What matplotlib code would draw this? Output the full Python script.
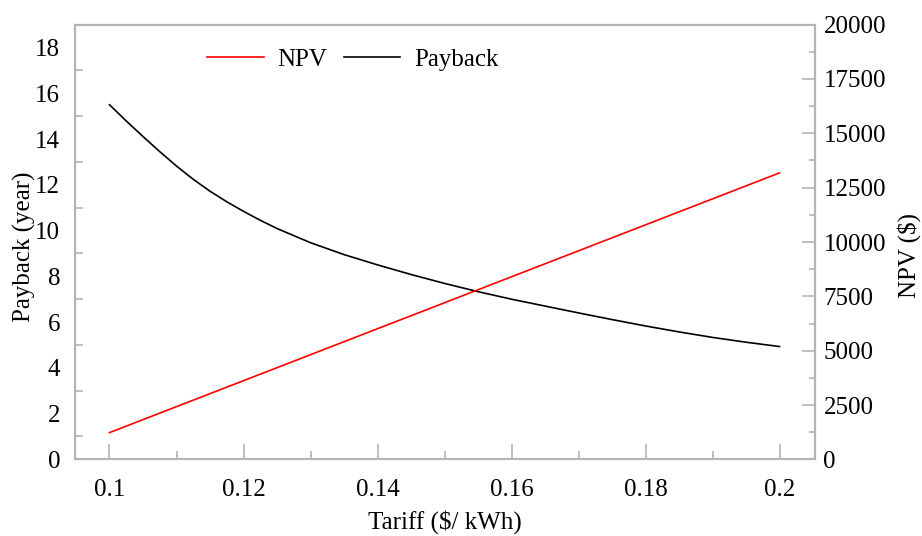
import numpy as np
import matplotlib
matplotlib.use('Agg')
import matplotlib.pyplot as plt
from matplotlib.ticker import FixedLocator

plt.rcParams['font.family'] = ['Liberation Serif', 'DejaVu Serif']

# data
tariff = [0.1000, 0.1025, 0.1050, 0.1075, 0.1100, 0.1125, 0.1150, 0.1175, 0.1200,
          0.1225, 0.1250, 0.130, 0.135, 0.140, 0.145, 0.150, 0.155, 0.160, 0.165,
          0.170, 0.175, 0.180, 0.185, 0.190, 0.195, 0.200]
payback = [15.5, 14.79, 14.11, 13.45, 12.82, 12.24, 11.72, 11.26, 10.84,
           10.45, 10.09, 9.47, 8.95, 8.50, 8.08, 7.69, 7.33, 7.00, 6.70,
           6.40, 6.11, 5.83, 5.57, 5.33, 5.12, 4.93]

npv_tariff = [0.10, 0.11, 0.12, 0.13, 0.14, 0.15, 0.16, 0.17, 0.18, 0.19, 0.20]
npv = [1230, 2425, 3620, 4815, 6010, 7205, 8400, 9595, 10790, 11985, 13180]

grey = '#b4b4b4'
fs = 18

fig = plt.figure(figsize=(9.22, 5.36), dpi=100)
ax = fig.add_axes([0.0817, 0.143, 0.8023, 0.811])
ax2 = ax.twinx()

l_pb, = ax.plot(tariff, payback, color='black', lw=1.2, label='Payback')
l_npv, = ax2.plot(npv_tariff, npv, color='#ff0000', lw=1.2, label='NPV')

ax.set_xlim(0.0949, 0.2053)
ax.set_ylim(0, 19)
ax2.set_ylim(0, 20000)

# x ticks
ax.set_xticks([0.1, 0.12, 0.14, 0.16, 0.18, 0.2])
ax.set_xticklabels(['0.1', '0.12', '0.14', '0.16', '0.18', '0.2'])
ax.xaxis.set_minor_locator(FixedLocator([0.11, 0.13, 0.15, 0.17, 0.19]))

# left: labels on even values, tick marks on odd values
ax.set_yticks(np.arange(0, 19, 2))
ax.yaxis.set_minor_locator(FixedLocator(np.arange(1, 19, 2)))

# right
ax2.set_yticks(np.arange(0, 20001, 2500))
ax2.yaxis.set_minor_locator(FixedLocator(np.arange(1250, 20000, 2500)))

ax.tick_params(axis='x', which='major', direction='in', length=11, width=1.2,
               color=grey, labelsize=fs, pad=14)
ax.tick_params(axis='x', which='minor', direction='in', length=5.5, width=1.2, color=grey)
ax.tick_params(axis='y', which='major', direction='in', length=0, labelsize=fs, pad=11)
ax.tick_params(axis='y', which='minor', direction='in', length=6, width=1.2, color=grey)
ax2.tick_params(axis='y', which='major', direction='in', length=9.5, width=1.2,
                color=grey, labelsize=fs, pad=6)
ax2.tick_params(axis='y', which='minor', direction='in', length=4.5, width=1.2, color=grey)

for a in (ax, ax2):
    for s in a.spines.values():
        s.set_color(grey)
        s.set_linewidth(1.5)

ax.set_xlabel('Tariff ($/ kWh)', fontsize=fs)
ax.set_ylabel('Payback (year)', fontsize=fs)
ax2.set_ylabel('NPV ($)', fontsize=fs)
ax.xaxis.set_label_coords(0.5, -0.116)
ax.yaxis.set_label_coords(-0.053, 0.49)
ax2.yaxis.set_label_coords(1.111, 0.47)

ax2.legend(handles=[l_npv, l_pb], loc='center left', bbox_to_anchor=(0.148, 0.92),
           ncol=2, frameon=False, fontsize=fs, handlelength=2.25,
           handletextpad=0.55, columnspacing=0.68)

fig.savefig('out.png', dpi=100)
